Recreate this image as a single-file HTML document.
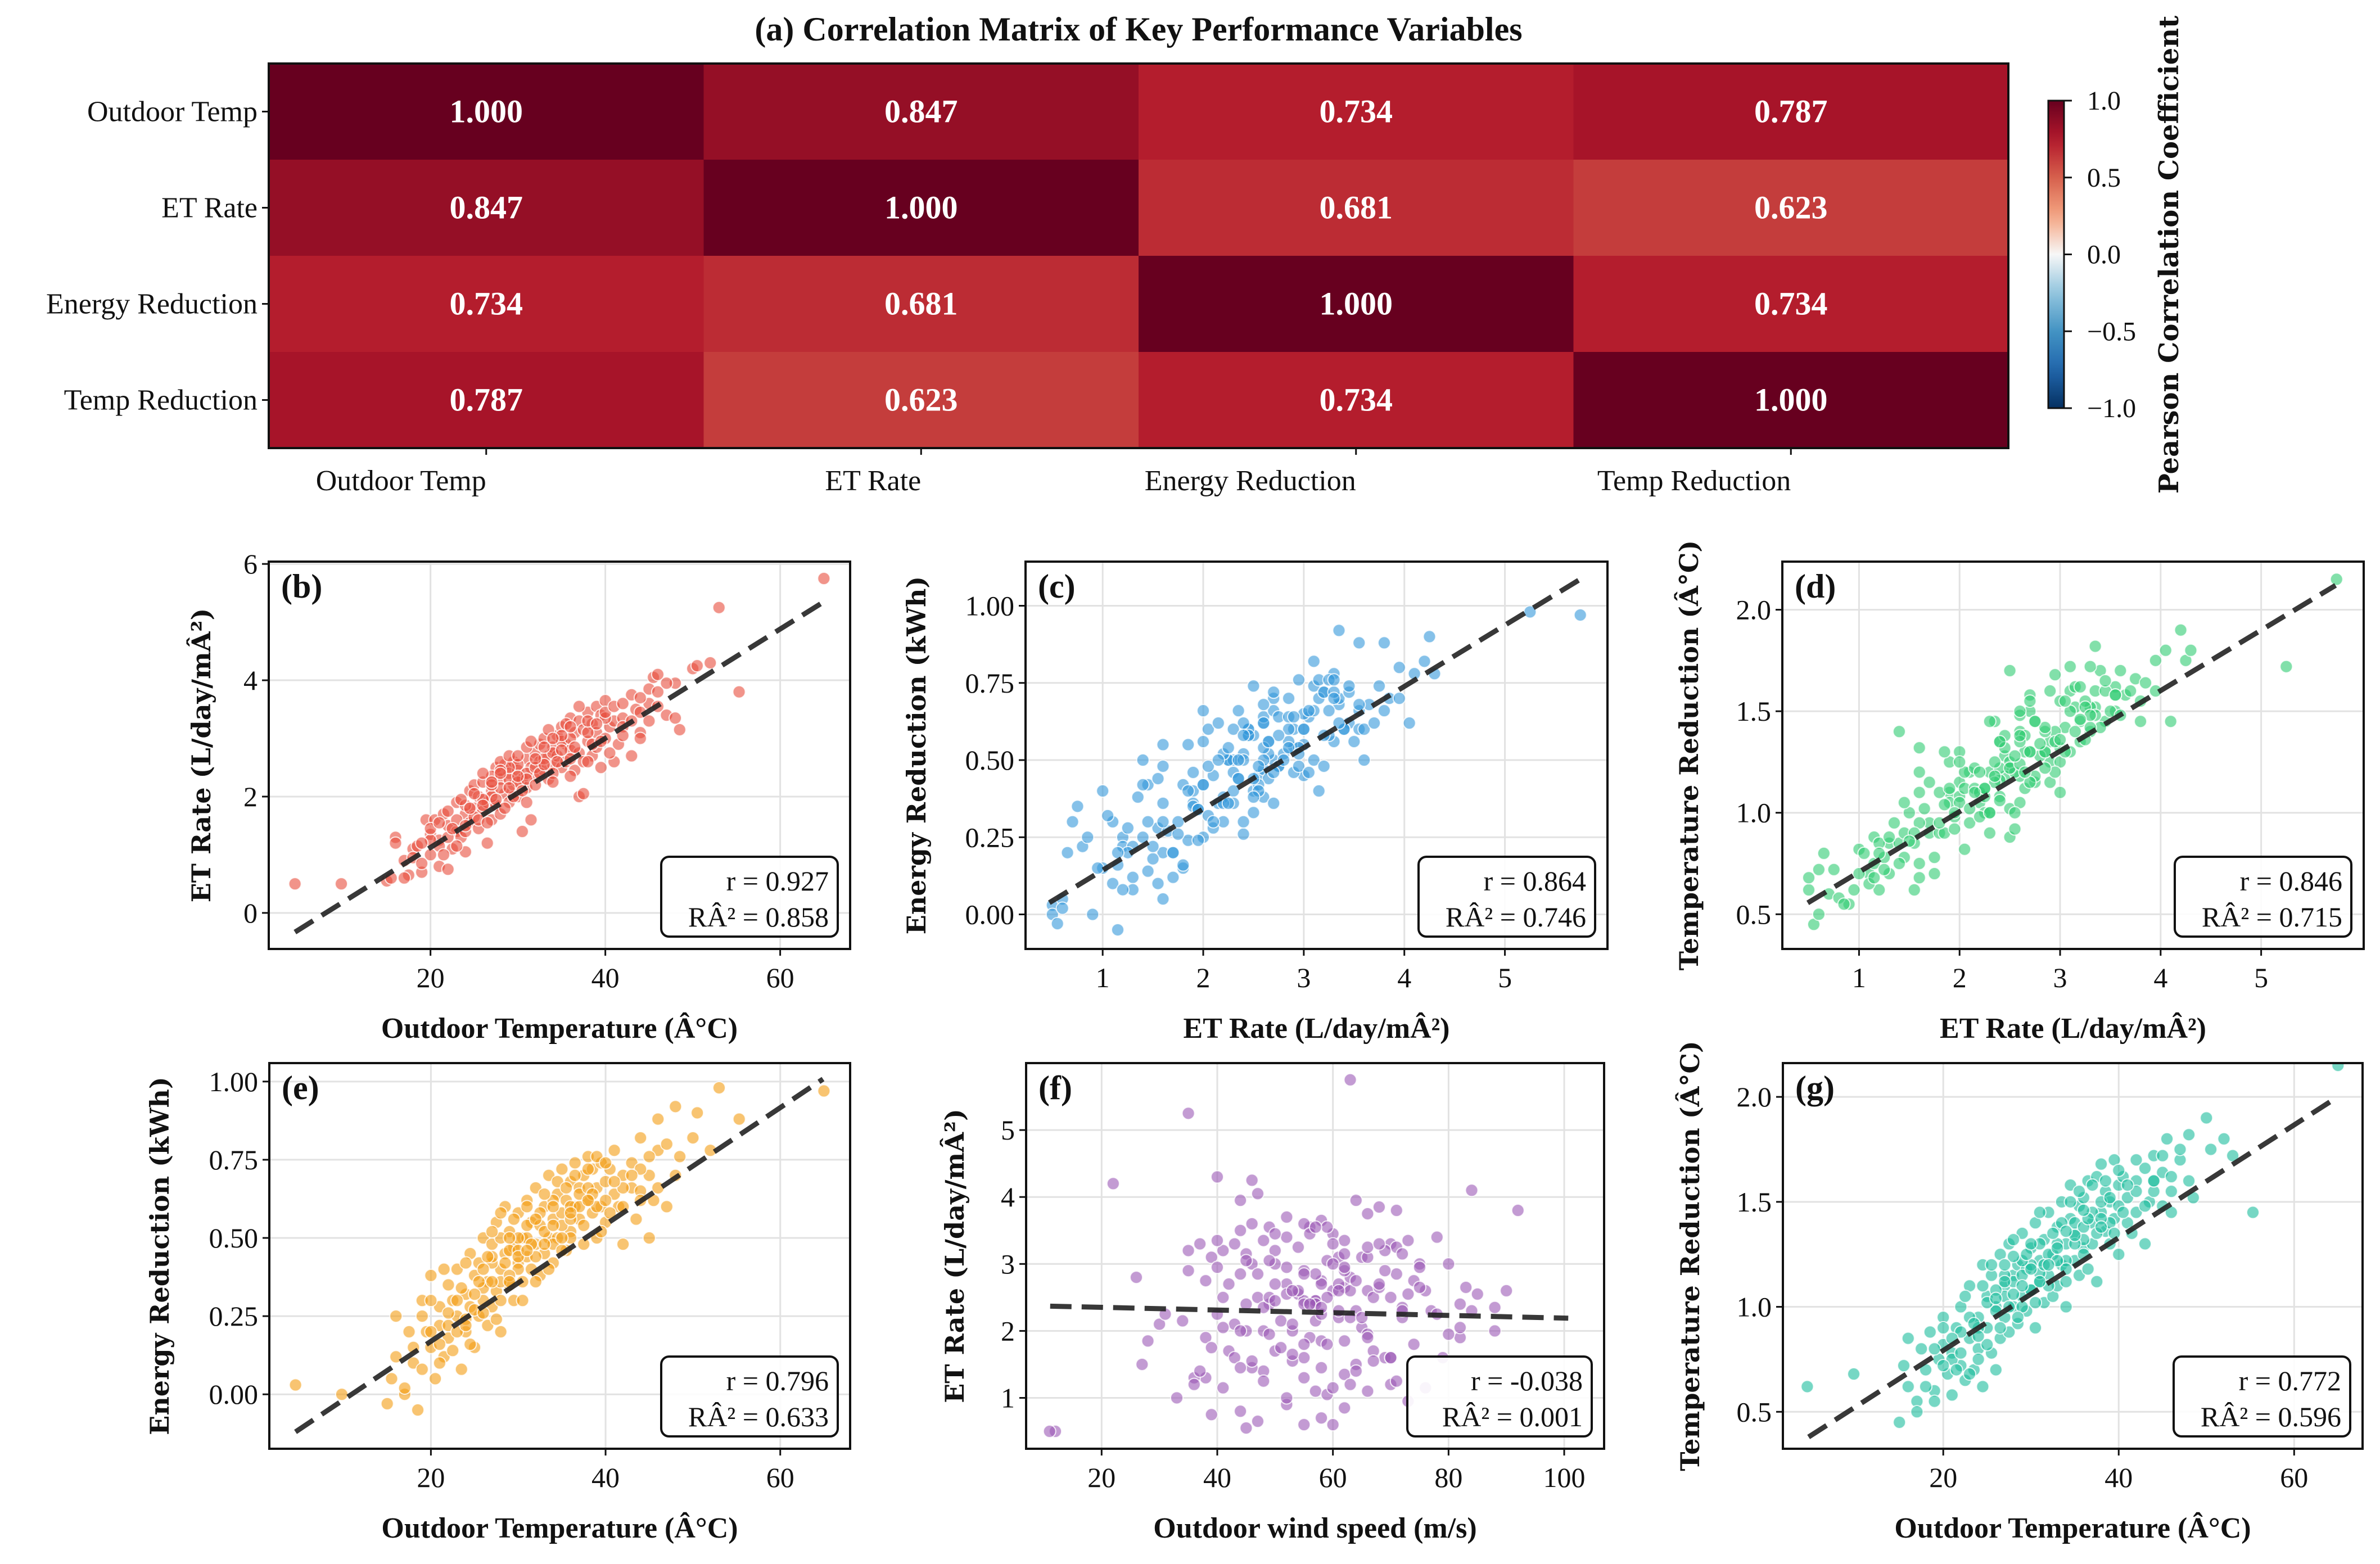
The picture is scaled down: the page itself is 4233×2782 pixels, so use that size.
<!DOCTYPE html>
<html><head><meta charset="utf-8"><style>
html,body{margin:0;padding:0;background:#fff;}
svg{display:block;}
text{font-family:"Liberation Serif",serif;fill:#111;}
</style></head><body>
<svg id="fig" xmlns="http://www.w3.org/2000/svg" width="4233" height="2782" viewBox="0 0 4233 2782">
<rect width="4233" height="2782" fill="#fff"/>
<g id="heat"></g>
<g id="panels"></g>
</svg>
<script>
// ---------- heatmap data ----------
const varNames = ["Outdoor Temp","ET Rate","Energy Reduction","Temp Reduction"];
const corrRow0 = [1.000,0.847,0.734,0.787];
const corrRow1 = [0.847,1.000,0.681,0.623];
const corrRow2 = [0.734,0.681,1.000,0.734];
const corrRow3 = [0.787,0.623,0.734,1.000];
const corrMatrix = [corrRow0,corrRow1,corrRow2,corrRow3];
const cbTicks = [1.0,0.5,0.0,-0.5,-1.0];

// ---------- observations: [outdoorTemp, etRate, energyRed, tempRed, wind] ----------
const obs = [
[4.5,0.5,0.03,0.62,12],[9.8,0.5,0.0,0.68,11],[65,5.75,0.97,2.15,63],[53,5.25,0.98,1.72,35],[55.3,3.8,0.88,1.45,92],
[15,0.55,-0.03,0.45,45],[15.5,0.6,0.05,0.72,60],[16,1.3,0.12,0.85,38],[16,1.2,0.25,0.62,70],[17,0.9,0.0,0.55,52],
[17.5,0.65,0.2,0.8,47],[18,1.1,0.1,0.7,66],[18.5,1.15,-0.05,0.88,41],[19,0.7,0.3,0.6,58],[19.5,1.6,0.2,0.75,79],
[20,1.0,0.15,0.82,33],[20,1.35,0.38,0.95,62],[20.5,1.6,0.05,0.68,55],[21,0.8,0.22,0.58,44],[21,1.25,0.28,0.78,71],
[21.5,1.7,0.12,0.9,50],[22,0.75,0.35,0.72,39],[22,1.5,0.18,1.0,64],[22.5,1.1,0.3,0.65,57],[23,1.4,0.25,0.85,48],
[23,1.9,0.4,1.1,82],[23.5,1.3,0.08,0.7,36],[24,1.05,0.32,0.8,59],[24,1.7,0.2,0.95,67],[24.5,2.1,0.45,1.2,43],
[24.5,1.55,0.28,0.62,53],[25,1.8,0.15,0.9,74],[25,2.2,0.38,1.05,61],[25.5,1.45,0.42,0.78,46],[25.5,2.0,0.25,1.15,88],
[26,1.75,0.3,0.7,51],[26,2.25,0.5,1.0,40],[26.5,1.2,0.22,0.85,63],[26.5,1.9,0.36,1.25,56],[27,2.1,0.28,0.95,30],
[27,1.6,0.48,1.1,69],[27.5,2.5,0.33,0.88,47],[27.5,1.85,0.55,1.3,58],[28,2.3,0.4,1.0,77],[28,1.7,0.2,1.15,42],
[28.5,2.55,0.45,0.92,54],[28.5,2.05,0.6,1.2,65],[29,1.9,0.35,1.05,38],[29,2.4,0.52,1.35,49],[29.5,2.2,0.3,0.98,72],
[29.5,2.6,0.47,1.18,60],[30,2.0,0.42,1.08,45],[30,2.45,0.58,1.28,55],[30.5,2.3,0.36,0.9,84],[30.5,1.4,0.5,1.4,37],
[31,2.65,0.44,1.12,62],[31,2.15,0.62,1.22,51],[31.5,2.5,0.4,1.02,70],[31.5,1.6,0.55,1.32,43],[32,2.75,0.48,1.15,58],
[32,2.35,0.66,1.45,48],[32.5,2.6,0.38,1.05,66],[32.5,2.9,0.54,1.25,35],[33,2.45,0.6,1.38,57],[33,3.0,0.45,1.1,80],
[33.5,2.7,0.7,1.5,52],[33.5,2.3,0.5,1.2,61],[34,2.85,0.56,1.3,44],[34,2.55,0.42,1.0,73],[34.5,3.05,0.64,1.42,59],
[34.5,2.7,0.5,1.58,50],[35,2.5,0.58,1.22,67],[35,3.2,0.72,1.35,41],[35.5,2.9,0.46,1.15,55],[35.5,2.6,0.62,1.48,76],
[36,3.35,0.68,1.52,48],[36,2.8,0.52,1.28,63],[36.5,3.1,0.74,1.6,39],[36.5,2.45,0.6,1.18,57],[37,3.3,0.56,1.4,70],
[37,2.0,0.66,1.3,53],[37.5,3.15,0.7,1.62,45],[37.5,2.05,0.48,1.12,82],[38,3.45,0.62,1.45,60],[38,2.95,0.76,1.68,52],
[38.5,3.25,0.58,1.36,71],[38.5,2.7,0.72,1.55,42],[39,3.55,0.66,1.5,56],[39,3.1,0.5,1.3,65],[39.5,2.5,0.74,1.7,49],
[39.5,3.4,0.6,1.42,78],[40,3.65,0.68,1.58,58],[40,3.0,0.55,1.25,46],[40.5,3.2,0.72,1.62,69],[41,2.6,0.64,1.4,54],
[41,3.3,0.78,1.52,37],[41.5,2.9,0.6,1.35,62],[42,3.35,0.7,1.6,73],[42,3.2,0.48,1.45,50],[43,2.7,0.66,1.3,58],
[43,3.75,0.74,1.66,66],[43.5,3.5,0.56,1.5,44],[44,3.1,0.82,1.72,61],[44,3.0,0.65,1.55,75],[45,3.6,0.5,1.48,55],
[45,3.85,0.7,1.64,68],[45.5,4.05,0.62,1.8,47],[46,3.55,0.88,1.62,59],[46,4.1,0.78,1.45,84],[47,3.4,0.6,1.7,52],
[48,3.35,0.92,1.82,40],[48,3.95,0.7,1.6,64],[48.5,3.15,0.76,1.52,72],[50,4.2,0.82,1.9,22],[50.5,4.25,0.9,1.75,46],
[52,4.3,0.78,1.8,40],
[27,2.0,0.42,1.05,48],[28,2.15,0.36,1.12,57],[29,2.3,0.46,1.0,64],[30,2.55,0.4,1.2,52],[31,2.4,0.5,1.16,45],
[32,2.5,0.44,1.25,59],[33,2.65,0.52,1.3,68],[34,2.4,0.62,1.22,55],[35,2.95,0.54,1.4,62],[36,3.0,0.6,1.32,50],
[37,2.75,0.64,1.45,74],[30,2.25,0.5,1.08,58],[29,2.5,0.38,1.22,41],[26,1.95,0.34,0.98,66],[25,1.65,0.27,1.02,53],
[24,1.85,0.24,0.9,62],[23,1.6,0.3,0.95,70],[22,1.3,0.22,0.88,55],[21,1.15,0.16,0.75,60],[20,1.25,0.2,0.72,48],
[34,2.75,0.48,1.18,38],[36,2.65,0.56,1.38,83],[38,3.1,0.66,1.5,66],[39,2.85,0.6,1.4,57],[40,3.35,0.62,1.48,62],
[42,3.05,0.66,1.55,49],[44,3.45,0.72,1.6,56],[27,2.35,0.44,1.15,72],[28,2.6,0.5,1.24,63],[31,2.85,0.54,1.3,55],
[17,0.6,0.02,0.5,55],[18,0.95,0.15,0.62,73],[19,1.2,0.08,0.8,36],[19,0.85,0.25,0.55,62],[20,1.45,0.3,0.9,44],
[21,1.55,0.1,0.85,67],[21.5,1.0,0.4,0.7,52],[22,1.75,0.26,0.78,39],[22.5,1.45,0.14,1.05,58],[23,1.15,0.2,0.68,76],
[23.5,1.95,0.34,0.92,49],[24,1.4,0.42,0.75,64],[24.5,1.8,0.16,1.1,55],[25,2.05,0.32,0.82,41],[25.5,1.6,0.36,1.2,70],
[26,2.4,0.26,1.08,57],[26.5,1.55,0.44,0.9,46],[27,2.2,0.52,1.2,63],[27.5,1.95,0.24,1.0,80],[28,2.45,0.58,1.32,50],
[28.5,1.8,0.42,0.95,59],[29,2.7,0.36,1.15,68],[29.5,2.0,0.56,1.25,44],[30,2.7,0.46,1.3,61],[30.5,2.1,0.3,1.02,53],
[31,2.3,0.6,1.45,72],[31.5,2.95,0.48,1.2,40],[32,2.2,0.36,1.1,65],[32.5,2.4,0.58,1.35,56],[33,2.85,0.64,1.22,47],
[33.5,3.15,0.4,1.4,62],[34,2.25,0.54,1.12,78],[34.5,2.6,0.68,1.5,53],[35,3.05,0.46,1.3,45],[35.5,3.25,0.66,1.55,66],
[36,2.35,0.5,1.25,58],[36.5,2.85,0.7,1.42,71],[37,3.55,0.6,1.58,49],[37.5,2.6,0.54,1.35,61],[38,3.3,0.72,1.42,43],
[38.5,2.9,0.64,1.6,69],[39,3.25,0.76,1.52,54],[39.5,2.95,0.52,1.35,75],[40,3.45,0.74,1.65,50],[40.5,2.75,0.58,1.45,64],
[41,3.55,0.68,1.58,57],[42,3.6,0.6,1.7,46],[43,3.3,0.7,1.48,68],[44,3.7,0.62,1.6,52],[45,3.3,0.76,1.72,60],
[46,3.8,0.66,1.55,71],[47,3.95,0.8,1.75,44],[33,2.55,0.48,1.28,85],[30,2.35,0.44,1.18,88],[27,2.25,0.36,1.12,31],
[26,1.85,0.4,1.04,28],[35,2.8,0.5,1.34,26],[38,2.6,0.62,1.38,90],[24,1.5,0.22,0.86,27],[29,2.15,0.5,1.1,34],
[32,2.65,0.56,1.2,75],[36,3.2,0.58,1.46,35],[28,2.4,0.3,1.06,82],[31,1.9,0.46,1.12,66],[34,3.0,0.6,1.36,60]
];
// regression line end points [x1,y1,x2,y2] per panel
const fitB = [4.5,-0.33,65,5.35];
const fitC = [0.47,0.038,5.76,1.088];
const fitD = [0.49,0.556,5.74,2.12];
const fitE = [4.5,-0.12,64.9,1.008];
const fitF = [11.1,2.37,100.7,2.19];
const fitG = [4.65,0.38,64.6,1.99];
const statR = ["0.927","0.864","0.846","0.796","-0.038","0.772"];
const statR2 = ["0.858","0.746","0.715","0.633","0.001","0.596"];

const NS = "http://www.w3.org/2000/svg";
function mk(tag, attrs, parent){ const e=document.createElementNS(NS,tag); for(const k in attrs) e.setAttribute(k,attrs[k]); parent.appendChild(e); return e; }

// ---------- heatmap ----------
const heat = document.getElementById('heat');
const HX0=478, HX1=3572, HY0=113, HY1=797;
const cw=(HX1-HX0)/4, ch=(HY1-HY0)/4;
function rdbu(v){
  const stops=[[-1,[5,48,97]],[-0.75,[33,102,172]],[-0.5,[67,147,195]],[-0.25,[146,197,222]],[0,[247,247,247]],[0.25,[244,165,130]],[0.5,[214,96,77]],[0.75,[178,24,43]],[1,[103,0,31]]];
  for(let i=0;i<stops.length-1;i++){ const a=stops[i],b=stops[i+1]; if(v<=b[0]){ const t=(v-a[0])/(b[0]-a[0]); const c=a[1].map((x,j)=>Math.round(x+(b[1][j]-x)*t)); return `rgb(${c[0]},${c[1]},${c[2]})`; } }
  return 'rgb(103,0,31)';
}
const ttl=mk('text',{x:2025,y:72,'text-anchor':'middle','font-size':60,'font-weight':'bold'},heat);
ttl.textContent="(a) Correlation Matrix of Key Performance Variables";


for(let r=0;r<4;r++){ for(let c=0;c<4;c++){
  const v=corrMatrix[r][c];
  const cell=mk('rect',{x:HX0+c*cw,y:HY0+r*ch,width:cw+0.5,height:ch+0.5,fill:rdbu(v)},heat);
  
  
  const t=mk('text',{x:HX0+(c+0.5)*cw,y:HY0+(r+0.5)*ch+19,'text-anchor':'middle','font-size':58,'font-weight':'bold',fill:'#fff'},heat);
  t.style.fill='#fff';
  t.textContent=v.toFixed(3);
  
  
}}
mk('rect',{x:HX0,y:HY0,width:HX1-HX0,height:HY1-HY0,fill:'none',stroke:'#111','stroke-width':4},heat);
for(let i=0;i<4;i++){
  const yc=HY0+(i+0.5)*ch;
  mk('line',{x1:HX0-12,y1:yc,x2:HX0,y2:yc,stroke:'#111','stroke-width':3},heat);
  const yl=mk('text',{x:HX0-20,y:yc+17,'text-anchor':'end','font-size':52},heat);
  yl.textContent=varNames[i];
  
  
  const xc=HX0+(i+0.5)*cw;
  mk('line',{x1:xc,y1:HY1,x2:xc,y2:HY1+12,stroke:'#111','stroke-width':3},heat);
  const xl=mk('text',{x:xc,y:872,'text-anchor':'end','font-size':52},heat);
  xl.textContent=varNames[i];
  
  
}
// colorbar
const CB={x:3643,w:28,y0:179,y1:726};
const defs=mk('defs',{},heat);
const grad=mk('linearGradient',{id:'cbg',x1:0,y1:1,x2:0,y2:0},defs);
for(let i=0;i<=20;i++){ const v=-1+i*0.1; mk('stop',{offset:(i/20),'stop-color':rdbu(v)},grad); }
const cbr=mk('rect',{x:CB.x,y:CB.y0,width:CB.w,height:CB.y1-CB.y0,fill:'url(#cbg)',stroke:'#111','stroke-width':3},heat);


cbTicks.forEach(v=>{
  const y=CB.y1-(v+1)/2*(CB.y1-CB.y0);
  mk('line',{x1:CB.x+CB.w,y1:y,x2:CB.x+CB.w+14,y2:y,stroke:'#111','stroke-width':3},heat);
  const t=mk('text',{x:3712,y:y+16,'font-size':48},heat);
  t.textContent=(v<0?'\u2212':'')+Math.abs(v).toFixed(1);
  
  
});
const cbl=mk('text',{x:0,y:0,'text-anchor':'middle','font-size':48,'font-weight':'bold',transform:'translate(3874,453) rotate(-90)'},heat);
cbl.style.fontFamily='"DejaVu Serif",serif';
cbl.textContent="Pearson Correlation Coefficient";



// ---------- scatter panels ----------
const panels=[
 {id:'b',xi:0,yi:1,px:[478,1512],py:[999,1688],xd:[1.5,68],yd:[-0.62,6.04],xt:[20,40,60],yt:[0,2,4,6],yf:0,color:'#e74c3c',xl:'Outdoor Temperature (Â°C)',yl:'ET Rate (L/day/mÂ²)',ylx:358,fit:fitB,k:0},
 {id:'c',xi:1,yi:2,px:[1824,2859],py:[999,1688],xd:[0.233,6.02],yd:[-0.112,1.143],xt:[1,2,3,4,5],yt:[0,0.25,0.5,0.75,1.0],yf:2,color:'#3498db',xl:'ET Rate (L/day/mÂ²)',yl:'Energy Reduction (kWh)',ylx:1630,fit:fitC,k:1},
 {id:'d',xi:1,yi:3,px:[3170,4204],py:[999,1688],xd:[0.237,6.02],yd:[0.329,2.237],xt:[1,2,3,4,5],yt:[0.5,1.0,1.5,2.0],yf:1,color:'#2ecc71',xl:'ET Rate (L/day/mÂ²)',yl:'Temperature Reduction (Â°C)',ylx:3004,fit:fitD,k:2},
 {id:'e',xi:0,yi:2,px:[479,1512],py:[1891,2577],xd:[1.5,68],yd:[-0.174,1.059],xt:[20,40,60],yt:[0,0.25,0.5,0.75,1.0],yf:2,color:'#f39c12',xl:'Outdoor Temperature (Â°C)',yl:'Energy Reduction (kWh)',ylx:284,fit:fitE,k:3},
 {id:'f',xi:4,yi:1,px:[1825,2853],py:[1891,2577],xd:[6.94,106.9],yd:[0.24,6.0],xt:[20,40,60,80,100],yt:[1,2,3,4,5],yf:0,color:'#9b59b6',xl:'Outdoor wind speed (m/s)',yl:'ET Rate (L/day/mÂ²)',ylx:1698,fit:fitF,k:4},
 {id:'g',xi:0,yi:3,px:[3171,4202],py:[1891,2577],xd:[1.72,67.8],yd:[0.324,2.161],xt:[20,40,60],yt:[0.5,1.0,1.5,2.0],yf:1,color:'#1abc9c',xl:'Outdoor Temperature (Â°C)',yl:'Temperature Reduction (Â°C)',ylx:3006,fit:fitG,k:5}
];
const root=document.getElementById('panels');
panels.forEach(p=>{
  const g=mk('g',{},root);
  
  
  const sx=v=>p.px[0]+(v-p.xd[0])/(p.xd[1]-p.xd[0])*(p.px[1]-p.px[0]);
  const sy=v=>p.py[1]-(v-p.yd[0])/(p.yd[1]-p.yd[0])*(p.py[1]-p.py[0]);
  const cid='clip'+p.id;
  const cp=mk('clipPath',{id:cid},g); mk('rect',{x:p.px[0],y:p.py[0],width:p.px[1]-p.px[0],height:p.py[1]-p.py[0]},cp);
  p.xt.forEach(v=>{ mk('line',{x1:sx(v),y1:p.py[0],x2:sx(v),y2:p.py[1],stroke:'#e2e2e2','stroke-width':3},g); });
  p.yt.forEach(v=>{ mk('line',{x1:p.px[0],y1:sy(v),x2:p.px[1],y2:sy(v),stroke:'#e2e2e2','stroke-width':3},g); });
  const pg=mk('g',{'clip-path':`url(#${cid})`},g);
  obs.forEach(o=>{
    const c=mk('circle',{cx:sx(o[p.xi]),cy:sy(o[p.yi]),r:11,fill:p.color,'fill-opacity':0.6,stroke:'#fff','stroke-width':2,'stroke-opacity':0.8},pg);
    
    
  });
  const ln=mk('line',{x1:sx(p.fit[0]),y1:sy(p.fit[1]),x2:sx(p.fit[2]),y2:sy(p.fit[3]),stroke:'#222','stroke-width':9,'stroke-dasharray':'38 18','stroke-opacity':0.9},g);
  
  
  mk('rect',{x:p.px[0],y:p.py[0],width:p.px[1]-p.px[0],height:p.py[1]-p.py[0],fill:'none',stroke:'#111','stroke-width':4},g);
  p.xt.forEach(v=>{
    mk('line',{x1:sx(v),y1:p.py[1],x2:sx(v),y2:p.py[1]+12,stroke:'#111','stroke-width':3},g);
    const t=mk('text',{x:sx(v),y:p.py[1]+68,'text-anchor':'middle','font-size':50},g);
    t.textContent=String(v);
    
    
  });
  p.yt.forEach(v=>{
    mk('line',{x1:p.px[0]-12,y1:sy(v),x2:p.px[0],y2:sy(v),stroke:'#111','stroke-width':3},g);
    const t=mk('text',{x:p.px[0]-20,y:sy(v)+17,'text-anchor':'end','font-size':50},g);
    t.textContent=v.toFixed(p.yf);
    
    
  });
  const xt=mk('text',{x:(p.px[0]+p.px[1])/2,y:p.py[1]+158,'text-anchor':'middle','font-size':52,'font-weight':'bold'},g);
  xt.textContent=p.xl;
  
  
  const yt=mk('text',{x:0,y:0,'text-anchor':'middle','font-size':46,'font-weight':'bold',transform:`translate(${p.ylx+16},${(p.py[0]+p.py[1])/2}) rotate(-90)`},g);
  yt.style.fontFamily='"DejaVu Serif",serif';
  yt.textContent=p.yl;
  
  
  const lab=mk('text',{x:p.px[0]+22,y:p.py[0]+64,'font-size':60,'font-weight':'bold'},g);
  lab.textContent='('+p.id+')';
  
  
  const bw=p.id==='f'?328:314, bh=142;
  const bx=p.px[1]-22-bw, by=p.py[1]-22-bh;
  const box=mk('rect',{x:bx,y:by,width:bw,height:bh,rx:14,fill:'#fff','fill-opacity':0.9,stroke:'#111','stroke-width':4},g);
  
  
  const t1=mk('text',{x:bx+bw-16,y:by+60,'text-anchor':'end','font-size':50},g);
  t1.textContent='r = '+statR[p.k];
  
  
  const t2=mk('text',{x:bx+bw-16,y:by+124,'text-anchor':'end','font-size':50},g);
  t2.textContent='RÂ² = '+statR2[p.k];
  
  
});
</script>
</body></html>
